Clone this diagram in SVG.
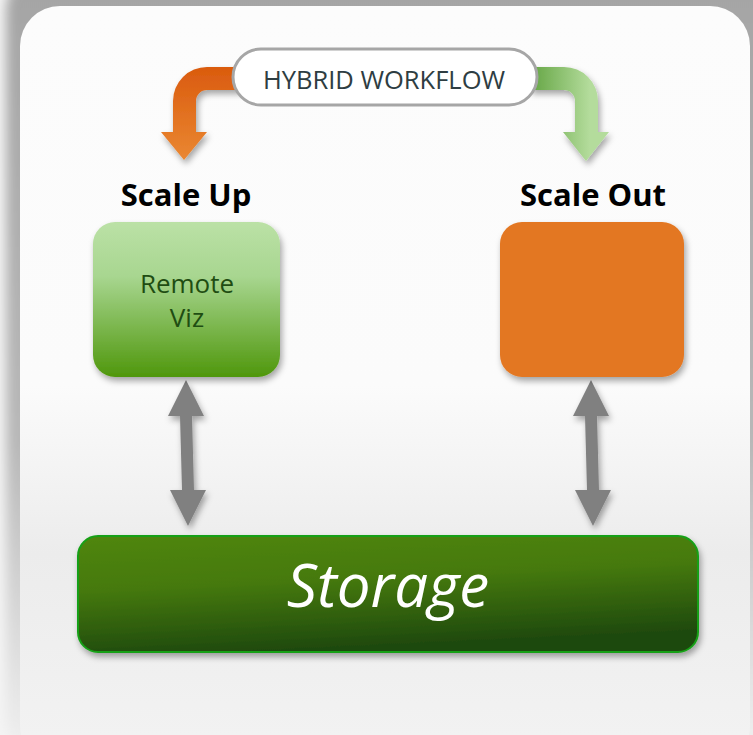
<svg xmlns="http://www.w3.org/2000/svg" width="753" height="735" viewBox="0 0 753 735">
<defs>
<linearGradient id="shadowFade" x1="0" y1="0" x2="0" y2="1">
<stop offset="0" stop-color="#a4a4a4"/>
<stop offset="0.6" stop-color="#b8b8b8"/>
<stop offset="1" stop-color="#f2f2f2"/>
</linearGradient>
<linearGradient id="panelFill" x1="0" y1="0" x2="0" y2="1">
<stop offset="0" stop-color="#fcfcfc"/>
<stop offset="0.5" stop-color="#fbfbfb"/>
<stop offset="0.72" stop-color="#ececec"/>
<stop offset="1" stop-color="#f3f3f3"/>
</linearGradient>
<linearGradient id="orangeGrad" gradientUnits="userSpaceOnUse" x1="0" y1="67" x2="0" y2="160">
<stop offset="0" stop-color="#da5b0e"/>
<stop offset="1" stop-color="#ea8732"/>
</linearGradient>
<linearGradient id="greenArrowGrad" gradientUnits="userSpaceOnUse" x1="535" y1="0" x2="590" y2="0">
<stop offset="0" stop-color="#6aa94a"/>
<stop offset="1" stop-color="#b4dc9c"/>
</linearGradient>
<linearGradient id="vizGrad" x1="0" y1="0" x2="0" y2="1">
<stop offset="0" stop-color="#bbe1a6"/>
<stop offset="0.35" stop-color="#a8d690"/>
<stop offset="1" stop-color="#4f970c"/>
</linearGradient>
<linearGradient id="storageGrad" x1="0" y1="0" x2="0.25" y2="1">
<stop offset="0" stop-color="#50860f"/>
<stop offset="0.45" stop-color="#45790e"/>
<stop offset="1" stop-color="#1f4a0b"/>
</linearGradient>
<filter id="blurShadow" x="-10%" y="-10%" width="120%" height="120%">
<feGaussianBlur stdDeviation="6"/>
</filter>
<filter id="drop" x="-20%" y="-20%" width="140%" height="150%">
<feDropShadow dx="2" dy="4" stdDeviation="3" flood-color="#000" flood-opacity="0.35"/>
</filter>
</defs>
<style>
.lbl{font-family:"Open Sans","Liberation Sans",sans-serif;}
.head{font-family:"Open Sans","Liberation Sans",sans-serif;font-weight:bold;font-size:31px;fill:#000;}
.dbl{fill:#808080;filter:url(#drop);}
</style>

<g id="background">
<rect x="0" y="0" width="753" height="735" fill="#f4f4f4"/>
<rect x="6" y="-30" width="765" height="790" rx="40" fill="url(#shadowFade)" filter="url(#blurShadow)"/>
<rect x="20" y="6" width="730" height="760" rx="40" fill="url(#panelFill)"/>
</g>

<g id="connectors">
<path id="arrow-scale-up" d="M245,67 L207,67 A34,34 0 0 0 173,101 L173,132 L161,132 L184,160 L207,132 L196,132 L196,101 A11,11 0 0 1 207,90 L245,90 Z" fill="url(#orangeGrad)" filter="url(#drop)"/>
<path id="arrow-scale-out" d="M530,67 L564,67 A34,34 0 0 1 598,101 L598,132 L609,132 L586,161 L563,132 L575,132 L575,101 A11,11 0 0 0 564,90 L530,90 Z" fill="url(#greenArrowGrad)" filter="url(#drop)"/>
<polygon class="dbl" points="186,380 168,416 180,416 182,490 170,490 188,526 206,490 194,490 192,416 204,416"/>
<polygon class="dbl" points="591,380 573,416 585,416 587,490 575,490 593,526 611,490 599,490 597,416 609,416"/>
</g>

<g id="hybrid-workflow">
<rect x="233" y="49" width="304" height="56" rx="28" fill="#ffffff" stroke="#a6a6a6" stroke-width="3"/>
<text class="lbl" x="384" y="89" font-size="25.5" fill="#2e3d42" text-anchor="middle">HYBRID WORKFLOW</text>
</g>

<g id="scale-up-label">
<text class="head" x="186" y="206" text-anchor="middle">Scale Up</text>
</g>
<g id="scale-out-label">
<text class="head" x="593" y="206" text-anchor="middle">Scale Out</text>
</g>

<g id="remote-viz">
<rect x="93" y="222" width="187" height="155" rx="22" fill="url(#vizGrad)" filter="url(#drop)"/>
<text class="lbl" x="187" y="293" font-size="26" fill="#1f4d12" text-anchor="middle">Remote</text>
<text class="lbl" x="187" y="327" font-size="26" fill="#1f4d12" text-anchor="middle">Viz</text>
</g>

<g id="scale-out-box">
<rect x="500" y="222" width="184" height="155" rx="22" fill="#e37722" filter="url(#drop)"/>
</g>

<g id="storage">
<rect x="78" y="536" width="620" height="116" rx="20" fill="url(#storageGrad)" stroke="#16a016" stroke-width="2" filter="url(#drop)"/>
<text class="lbl" x="388" y="607" font-size="60" font-style="italic" fill="#ffffff" text-anchor="middle">Storage</text>
</g>
</svg>
